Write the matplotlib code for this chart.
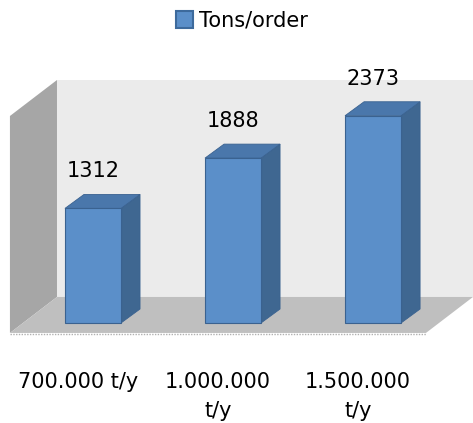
import matplotlib
matplotlib.use("Agg")
import matplotlib.pyplot as plt
from matplotlib.patches import Polygon

# Data
categories = ['700.000 t/y', '1.000.000\nt/y', '1.500.000\nt/y']
tons_per_order = [1312, 1888, 2373]
series_name = 'Tons/order'

# colours
front_col = '#5b8fc9'
side_col = '#3f6791'
top_col = '#4a77ab'
edge_col = '#3a6290'

fig = plt.figure(figsize=(4.73, 4.23), dpi=100)
ax = fig.add_axes([0, 0, 1, 1])
ax.set_xlim(-0.664, 2.714)
ax.set_ylim(-1145, 3698)
ax.axis('off')

# 3D depth of the box (floor/walls) and of the bars, in data units
box_dx, box_dy = 0.336, 412
bar_dx, bar_dy = 0.136, 160
bar_w = 0.4
x_front_left = -0.593
x_front_right = 2.378
y_floor = -114
y_wall_top = 2370

# back wall
ax.add_patch(Polygon([(x_front_left + box_dx, y_floor + box_dy),
                      (2.72, y_floor + box_dy),
                      (2.72, y_wall_top + box_dy),
                      (x_front_left + box_dx, y_wall_top + box_dy)],
                     closed=True, fc='#ebebeb', ec='none', zorder=1))
# left wall
ax.add_patch(Polygon([(x_front_left, y_floor),
                      (x_front_left + box_dx, y_floor + box_dy),
                      (x_front_left + box_dx, y_wall_top + box_dy),
                      (x_front_left, y_wall_top)],
                     closed=True, fc='#a6a6a6', ec='none', zorder=2))
# floor
ax.add_patch(Polygon([(x_front_left, y_floor),
                      (x_front_right, y_floor),
                      (x_front_right + box_dx, y_floor + box_dy),
                      (x_front_left + box_dx, y_floor + box_dy)],
                     closed=True, fc='#bfbfbf', ec='none', zorder=2))
ax.plot([x_front_left, x_front_right], [y_floor - 8, y_floor - 8],
        color='#b0b0b0', lw=1, ls=(0, (1, 1)), zorder=2)

x = list(range(len(categories)))
bars = ax.bar(x, tons_per_order, width=bar_w, color=front_col,
              edgecolor=edge_col, linewidth=0.8, zorder=5, label=series_name)

for xi, v in zip(x, tons_per_order):
    l, r = xi - bar_w / 2, xi + bar_w / 2
    # right side
    ax.add_patch(Polygon([(r, 0), (r + bar_dx, bar_dy), (r + bar_dx, v + bar_dy), (r, v)],
                         closed=True, fc=side_col, ec=edge_col, lw=0.6, zorder=4))
    # top
    ax.add_patch(Polygon([(l, v), (r, v), (r + bar_dx, v + bar_dy), (l + bar_dx, v + bar_dy)],
                         closed=True, fc=top_col, ec=edge_col, lw=0.6, zorder=4))
    ax.text(xi, v + bar_dy + 195, str(v), ha='center', va='baseline',
            fontsize=15, color='black', zorder=6)

# category labels, wrapped like Excel does; one text per line
for xi, lab in zip(x, categories):
    for k, line in enumerate(lab.split('\n')):
        ax.text(xi - 0.107, -744 - k * 332, line, ha='center', va='baseline',
                fontsize=15, color='black')

leg = ax.legend(loc='center', bbox_to_anchor=(241.5 / 473, 1 - 20.5 / 423),
                bbox_transform=fig.transFigure, frameon=False, fontsize=15,
                handlelength=0.85, handleheight=0.85, handletextpad=0.25, borderpad=0)
for h in leg.legend_handles:
    h.set_edgecolor('#3d6a9c')
    h.set_linewidth(1.5)

fig.savefig('out.png', dpi=100)
